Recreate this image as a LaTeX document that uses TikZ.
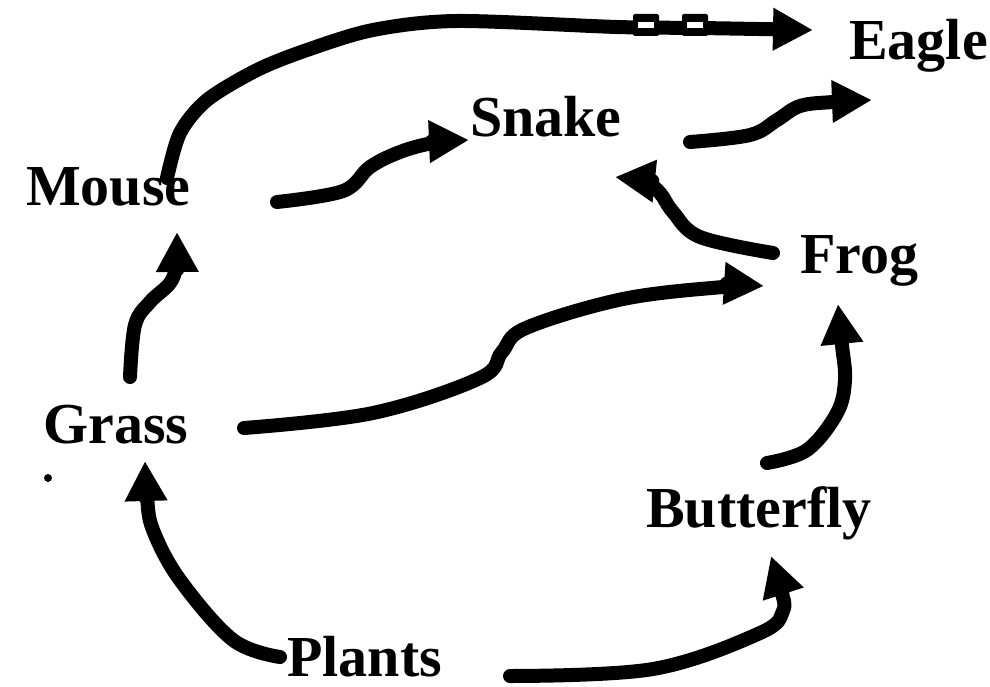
\documentclass[tikz,border=0pt]{standalone}
\usepackage{fontspec}
\setmainfont{Liberation Serif}
\usetikzlibrary{arrows.meta}
\tikzset{
  lbl/.style={anchor=base west, inner sep=0pt, font=\fontsize{58}{60}\selectfont\bfseries},
  arr/.style={line width=14pt, line cap=round, line join=round,
              -{Triangle[length=40pt,width=40pt]}},
  wave/.style={smooth, tension=0.6}
}
\begin{document}
\begin{tikzpicture}[x=1pt,y=-1pt]
\useasboundingbox (0,0) rectangle (990,687);
% nodes
\node[lbl] (eagle) at (849,60) {Eagle};
\node[lbl] (snake) at (470,137) {Snake};
\node[lbl] (mouse) at (26,205) {Mouse};
\node[lbl] (frog) at (800,273) {Frog};
\node[lbl] (grass) at (43,443) {Grass};
\node[lbl] (butterfly) at (646,527) {Butterfly};
\node[lbl] (plants) at (287,676) {Plants};
\fill (48,478) circle (4);
% connector ends
\coordinate (me0) at (167,178);
\coordinate (me1) at (813,30);
\coordinate (ms0) at (277,202);
\coordinate (ms1) at (469,140);
\coordinate (se0) at (690,142);
\coordinate (se1) at (872,100);
\coordinate (fs0) at (773,253);
\coordinate (fs1) at (615,177);
\coordinate (gm0) at (130,377);
\coordinate (gm1) at (177,232);
\coordinate (gf0) at (244,428);
\coordinate (gf1) at (764,286);
\coordinate (bf0) at (767,463);
\coordinate (bf1) at (838,304);
\coordinate (pg0) at (280,657);
\coordinate (pg1) at (145,461);
\coordinate (pb0) at (510,676);
\coordinate (pb1) at (771,556);
% connectors
\draw[arr] plot[smooth, tension=0.5] coordinates {(me0) (180,133) (207,100) (257,70) (307,50) (373,30) (457,21) (617,27) (700,28) (me1)};
\draw[arr] plot[wave] coordinates {(ms0) (343,191) (370,167) (400,152) (433,143) (ms1)};
\draw[arr] plot[wave] coordinates {(se0) (750,135) (777,120) (800,106) (833,102) (se1)};
\draw[arr] plot[wave] coordinates {(fs0) (700,237) (673,212) (660,193) (645,182) (fs1)};
\draw[arr] plot[wave] coordinates {(gm0) (135,325) (150,302) (170,283) (176,265) (gm1)};
\draw[arr] plot[wave] coordinates {(gf0) (373,413) (480,378) (502,352) (526,328) (623,299) (723,287) (gf1)};
\draw[arr] plot[wave] coordinates {(bf0) (807,450) (837,413) (845,380) (842,345) (bf1)};
\draw[arr] plot[wave] coordinates {(pg0) (233,640) (180,580) (153,530) (147,497) (pg1)};
\draw[arr] plot[wave] coordinates {(pb0) (653,669) (760,633) (783,611) (781,590) (pb1)};
% marks on the top connector
\foreach \xa in {633,682}{
  \fill[black, rounded corners=2pt] (\xa,14) rectangle ++(26,22);
  \fill[white] (\xa+5,22) rectangle ++(16,6);
}
\end{tikzpicture}
\end{document}
